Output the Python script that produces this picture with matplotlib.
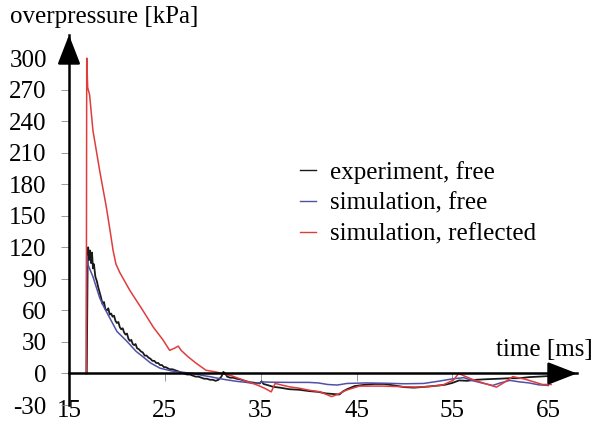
import matplotlib
matplotlib.use("Agg")
import matplotlib.pyplot as plt

# ---------------- data ----------------
t_exp = [16.85, 16.95, 17.0, 17.1, 17.2, 17.3, 17.4, 17.5, 17.6, 17.75, 17.9, 18.05, 18.2,
         18.35, 18.5, 18.65, 18.8, 18.95, 19.1, 19.25, 19.4, 19.55, 19.7, 19.85, 20.0, 20.15,
         20.3, 20.45, 20.6, 20.75, 20.9, 21.05, 21.2, 21.35, 21.5, 21.65, 21.8, 21.95, 22.1,
         22.3, 22.5, 22.7, 22.9, 23.1, 23.3, 23.5, 23.7, 23.9, 24.1, 24.3, 24.5, 24.7, 24.9,
         25.1, 25.3, 25.5, 25.8, 26.1, 26.4, 26.7, 27.0, 27.3, 27.6, 27.9, 28.2, 28.5, 28.8,
         29.1, 29.4, 29.7, 30.0, 30.3, 30.6, 30.9, 31.1, 31.3, 31.5, 31.8, 32.1, 32.5, 33.0,
         33.5, 34.0, 34.5, 34.9, 35.1, 35.3, 35.7, 36.3, 37.0, 38.0, 39.0, 40.1, 41.0, 41.8,
         42.5, 43.2, 43.6, 44.0, 44.8, 45.8, 46.8, 47.9, 49.0, 50.0, 51.0, 52.1, 53.0, 54.2,
         55.0, 55.7, 56.5, 57.5, 58.5, 59.9, 61.0, 62.0, 63.0, 64.0, 65.0]
p_exp = [0, 110, 120, 108, 117, 105, 115, 100, 104, 92, 88, 82, 77,
         72, 66, 68, 61, 60, 62, 56, 57, 54, 55, 50, 48, 49,
         44, 42, 43, 39, 37, 38, 33, 31, 32, 28, 27, 28, 24,
         23, 21, 20, 17, 17, 15, 14, 12, 12, 10, 10, 8, 8, 6,
         6, 5, 4, 4, 3, 2, 1, 0, -1, -1, -2, -3, -3, -4,
         -5, -5, -6, -6, -7, -6, -3, 1.5, 0, -3, -4, -4, -5, -6,
         -7.5, -8.5, -9, -9.5, -7.5, -10, -11, -12.7, -13.5, -15, -15.5, -16.8, -17.5, -19,
         -19.5, -20, -17, -15, -12, -10.8, -10, -10, -11.5, -13, -13.5, -12.7, -12, -10.8,
         -9, -6.6, -7, -6, -5.5, -5, -4.5, -4.5, -3.5, -3, -2.5]

t_free = [16.8, 16.85, 17.0, 17.5, 18.2, 18.6, 19.3, 20.0, 21.0, 22.0, 22.7, 23.5, 24.5,
          25.2, 25.9, 27.0, 27.9, 29.0, 29.7, 30.5, 31.4, 32.5, 33.5, 34.2, 34.8, 35.2,
          36.0, 38.0, 40.0, 41.0, 42.0, 43.0, 44.0, 46.0, 48.0, 50.0, 52.0, 53.4, 55.1,
          56.2, 57.0, 58.0, 59.2, 60.0, 61.0, 62.0, 63.0, 64.0, 65.0]
p_free = [0, 112, 103, 92, 72, 64, 52, 40, 31, 21, 16, 10, 5,
          3.5, 2, 1, 0, -2, -3, -4.5, -6, -7.5, -8.5, -9.5, -9, -8,
          -8.3, -8.5, -8.5, -9, -10.5, -11, -9.5, -9, -9.3, -9.8, -9.5, -7.6, -5,
          -4, -6.6, -8.9, -11.4, -9, -6.6, -8, -9, -10.8, -11.4]

t_refl = [16.8, 16.85, 16.95, 17.15, 17.5, 18.2, 18.9, 19.3, 19.6, 19.9, 20.3, 21.35, 22.7, 23.8,
          24.8, 25.5, 26.0, 26.4, 26.7, 27.4, 28.3, 29.3, 30.3, 31.4, 32.0, 32.8, 33.2,
          34.2, 34.9, 35.5, 36.1, 36.5, 37.2, 38.0, 39.0, 40.1, 41.2, 42.4, 43.0, 43.9,
          45.3, 47.7, 49.5, 51.2, 52.5, 54.0, 55.1, 55.65, 56.4, 57.2, 58.2, 59.6, 60.5,
          61.3, 62.6, 63.5, 64.4, 65.3]
p_refl = [0, 300, 272, 265, 231, 193, 158, 135, 117, 104, 96, 79, 60, 44,
          32, 22, 24, 26, 22, 16, 9.5, 3, 1.5, -1, -2.3, -5, -6.4,
          -9.5, -12, -14.5, -17.5, -9.5, -11, -12.7, -14, -16, -17.5, -22, -20, -16,
          -12, -12, -12.5, -13, -12.5, -11, -6.4, 0, -3, -6, -9, -13, -8,
          -3, -5.5, -8, -10.5, -10.5]

x_ticks = [15, 25, 35, 45, 55, 65]
y_ticks = [-30, 0, 30, 60, 90, 120, 150, 180, 210, 240, 270, 300]
labels = ["experiment, free", "simulation, free", "simulation, reflected"]
colors = ["#1a1a1a", "#5050a8", "#e03c3c"]

# ---------------- figure ----------------
plt.rcParams['font.family'] = ['Liberation Serif', 'DejaVu Serif']
fig = plt.figure(figsize=(5.97, 4.28), dpi=100)
ax = fig.add_axes([69/597, 1 - 405/428, (577 - 69)/597, (405 - 35)/428])

ax.plot(t_exp, p_exp, color=colors[0], lw=1.3, label=labels[0])
ax.plot(t_free, p_free, color=colors[1], lw=1.1, label=labels[1])
ax.plot(t_refl, p_refl, color=colors[2], lw=1.1, label=labels[2])

ax.set_xlim(15, 68)
ax.set_ylim(-30, 322)

for s in ['top', 'right']:
    ax.spines[s].set_visible(False)
ax.spines['bottom'].set_position(('data', 0))
ax.spines['left'].set_linewidth(1.8)
ax.spines['bottom'].set_linewidth(1.8)

ax.set_yticks(y_ticks)
ax.set_yticklabels([str(v) for v in y_ticks], fontsize=18)
ax.set_xticks(x_ticks)
ax.set_xticklabels([str(v) for v in x_ticks], fontsize=18)
ax.tick_params(axis='y', direction='out', length=6, width=0.6, color='#888888', pad=10)
ax.tick_params(axis='x', direction='out', length=6, width=0.6, color='#888888', pad=13)

# arrowheads
ax.annotate('', xy=(1.0, 0), xycoords=('axes fraction', 'data'),
            xytext=(0.95, 0), textcoords=('axes fraction', 'data'),
            arrowprops=dict(arrowstyle='-|>,head_length=0.9,head_width=0.35', color='black',
                            lw=1.8, shrinkA=0, shrinkB=0, mutation_scale=20))
ax.annotate('', xy=(0, 1.0), xycoords='axes fraction',
            xytext=(0, 0.95), textcoords='axes fraction',
            arrowprops=dict(arrowstyle='-|>,head_length=0.9,head_width=0.35', color='black',
                            lw=1.8, shrinkA=0, shrinkB=0, mutation_scale=20))

fig.text(10/597, 1 - 17/428, "overpressure [kPa]", fontsize=18, ha='left', va='center')
fig.text(593/597, 1 - 350/428, "time [ms]", fontsize=18, ha='right', va='center')

leg = ax.legend(loc='upper left', bbox_to_anchor=(300/597, 1 - 161/428),
                bbox_transform=fig.transFigure, frameon=False, fontsize=18,
                handlelength=0.65, handletextpad=0.55, labelspacing=0.33,
                borderpad=0, borderaxespad=0)
for line in leg.get_lines():
    line.set_linewidth(1.0)

fig.savefig("out.png", dpi=100)
